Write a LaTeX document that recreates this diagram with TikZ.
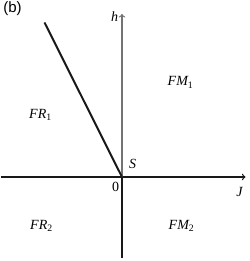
\documentclass[tikz,border=0pt]{standalone}
\usepackage{fontspec}
\setmainfont{Liberation Serif}
\newfontfamily\labelsans{Liberation Sans}
\usepackage{tikz}

\begin{document}
\begin{tikzpicture}[x=1pt,y=1pt,
  region/.style={inner sep=0pt,font=\fontsize{14}{16}\selectfont\itshape},
  thickline/.style={black!90,line width=2pt},
  thinaxis/.style={line width=1.3pt}]
\path[use as bounding box] (-122,-84) rectangle (127,177);
\coordinate (O) at (0,0);
\coordinate (Jleft) at (-121,0);
\coordinate (Jright) at (123.5,0);
\coordinate (htop) at (0,163);
\coordinate (hbot) at (0,-81);
\coordinate (slant) at (-77.5,154.5);
\draw[thickline] (Jleft) -- (O);
\draw[thinaxis,black!90,->] (O) -- (Jright);
\draw[thinaxis,black!55,->] (O) -- (htop);
\draw[thickline] (O) -- (hbot);
\draw[thickline] (O) -- (slant);
\node[region] (hlab) at (-7.5,160) {h};
\node[region] (Jlab) at (117.5,-14.5) {J};
\node[region] (Slab) at (10.5,13.5) {S};
\node[region] (zero) at (-6.5,-9.5) {\upshape 0};
\node[region] (FM1) at (58.5,94.5) {FM\textsubscript{\upshape 1}};
\node[region] (FR1) at (-81.5,62.5) {FR\textsubscript{\upshape 1}};
\node[region] (FR2) at (-80.5,-48.5) {FR\textsubscript{\upshape 2}};
\node[region] (FM2) at (59.5,-48.5) {FM\textsubscript{\upshape 2}};
\node[inner sep=0pt,font=\labelsans\fontsize{15}{17}\selectfont] (panel) at (-109.5,168.5) {(b)};
\end{tikzpicture}
\end{document}
